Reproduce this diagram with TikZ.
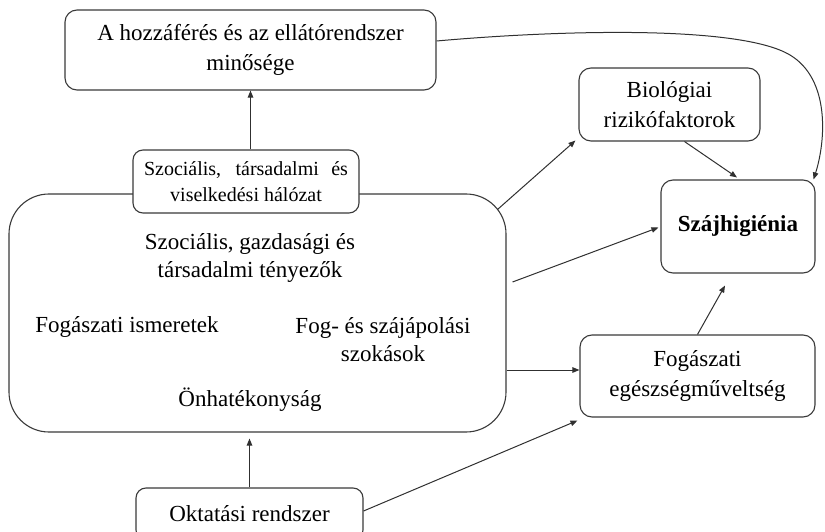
\documentclass[tikz,border=0pt]{standalone}
\usepackage{fontspec}
\setmainfont{Liberation Serif}
\usetikzlibrary{arrows.meta,calc}
\definecolor{boxline}{HTML}{3A3A3A}
\definecolor{arrline}{HTML}{303030}
\begin{document}
\begin{tikzpicture}[x=1pt,y=-1pt,
  box/.style={draw=boxline,line width=1.1pt,rounded corners=12pt,fill=white,
    align=center,inner sep=0pt,font=\fontsize{23}{30}\selectfont},
  plain/.style={align=center,inner sep=0pt,font=\fontsize{23}{28}\selectfont},
  arr/.style={draw=arrline,line width=1pt,-{Triangle[length=7pt,width=5.5pt]}}]
\useasboundingbox (0,0) rectangle (825,532);

% boxes
\node[box, minimum width=371pt, minimum height=80pt] (access) at (250.5,50)
  {A hozzáférés és az ellátórendszer\\minősége};
\node[box, rounded corners=40pt, minimum width=497pt, minimum height=238pt]
  (factors) at (257.5,313) {};
\node[box, rounded corners=10pt, minimum width=226pt, minimum height=63pt,
  font=\fontsize{20}{26}\selectfont] (network) at (246,181.5)
  {\makebox[204pt][s]{Szociális, társadalmi és}\\viselkedési hálózat};
\node[box, minimum width=181pt, minimum height=73pt] (bio) at (669.5,104.5)
  {Biológiai\\rizikófaktorok};
\node[box, minimum width=154pt, minimum height=93pt,
  font=\fontsize{23}{30}\selectfont\bfseries] (hyg) at (738,226.5) {Szájhigiénia};
\node[box, minimum width=235pt, minimum height=82pt] (lit) at (697.5,376)
  {Fogászati\\egészségműveltség};
\node[box, rounded corners=10pt, minimum width=227pt, minimum height=52pt]
  (edu) at (249.5,514) {Oktatási rendszer};

% factors inside the large box
\node[plain] (socio) at (250,258) {Szociális, gazdasági és\\társadalmi tényezők};
\node[plain] (know) at (127,327) {Fogászati ismeretek};
\node[plain] (habit) at (383,340) {Fog- és szájápolási\\szokások};
\node[plain] (self) at (250,400) {Önhatékonyság};

% connectors
\draw[arr] (network.north -| access.south) -- (access.south);
\draw[arr] ($(factors.north east)+(-9,16)$) -- ($(bio.south west)+(-3,-1)$);
\draw[arr] ($(factors.east)+(6,-31)$) -- ($(hyg.west)+(-2,1)$);
\draw[arr] ([yshift=6pt]factors.east |- lit.west) -- ([yshift=6pt]lit.west);
\draw[arr] ([yshift=3pt]edu.east) -- ($(lit.south west)+(-2,3)$);
\draw[arr] (edu.north) -- ($(edu.north |- factors.south)+(0,6)$);
\draw[arr] ($(bio.south)+(15,0)$) -- ($(hyg.north)+(-1,-2)$);
\draw[arr] (lit.north) -- ($(hyg.south)+(-13,12)$);
\draw[arr] ([yshift=9pt]access.east)
  .. controls (560,30) and (740,25) .. (790,55)
  .. controls (830,79) and (826,140) .. ($(hyg.north east)+(-2,0)$);
\end{tikzpicture}
\end{document}
